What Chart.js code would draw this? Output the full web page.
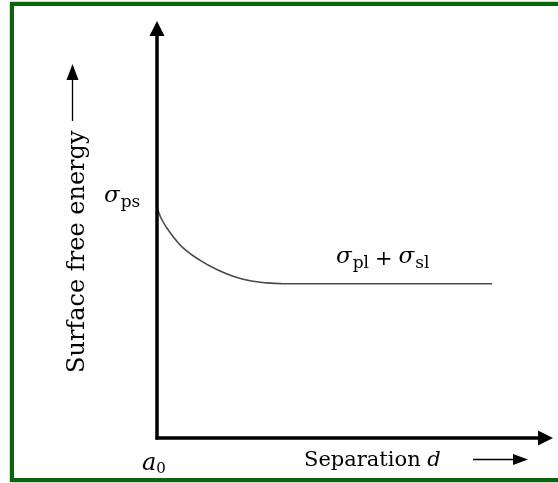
<!DOCTYPE html>
<html>
<head>
<meta charset="utf-8">
<script src="https://cdn.jsdelivr.net/npm/chart.js@4/dist/chart.umd.min.js"></script>
<style>
html,body{margin:0;padding:0;background:#fff;overflow:hidden;width:558px;height:483px;}
#wrap{position:relative;width:558px;height:483px;overflow:hidden;}
#frame{position:absolute;left:10px;top:2px;width:700px;height:472px;border-top:4.5px solid #0a640a;border-left:4.5px solid #0a640a;border-bottom:4.5px solid #0a640a;box-shadow:0 0 1.5px #2e8b2e;}
#c{display:block;position:absolute;left:0;top:0;}
</style>
</head>
<body>
<div id="wrap"><div id="frame"></div><canvas id="c" width="558" height="483"></canvas></div>
<script>
// Separation (arbitrary units, a0 = 0)
const separation = [0, 1.2, 3.2, 6.6, 10.9, 15.1, 19.2, 23.5, 27.7, 31.8, 45, 65, 84.6];
// Surface free energy (arbitrary units)
const energy = [55.3, 52.4, 49.4, 45.6, 42.6, 40.4, 38.8, 37.7, 37.2, 37.0, 37.0, 37.0, 37.0];
const axisLabels = { y: "Surface free energy", x: "Separation", xVar: "d", origin: "a", originSub: "0" };
const curveLabels = { start: "ps", end: ["pl", "sl"] };

const SERIF = '"DejaVu Serif", "Liberation Serif", serif';

function drawArrow(ctx, x1, y1, x2, y2, lw, headLen, headHalf) {
  const ang = Math.atan2(y2 - y1, x2 - x1);
  const bx = x2 - headLen * Math.cos(ang), by = y2 - headLen * Math.sin(ang);
  ctx.save();
  ctx.strokeStyle = '#000'; ctx.fillStyle = '#000'; ctx.lineWidth = lw;
  ctx.beginPath(); ctx.moveTo(x1, y1); ctx.lineTo(bx, by); ctx.stroke();
  ctx.beginPath();
  ctx.moveTo(x2, y2);
  ctx.lineTo(bx + headHalf * Math.sin(ang), by - headHalf * Math.cos(ang));
  ctx.lineTo(bx - headHalf * Math.sin(ang), by + headHalf * Math.cos(ang));
  ctx.closePath(); ctx.fill();
  ctx.restore();
}

function sigmaWithSub(ctx, x, yBase, sub, size, subSize) {
  ctx.font = 'italic ' + size + 'px ' + SERIF;
  ctx.fillText('σ', x, yBase);
  let w = ctx.measureText('σ').width;
  ctx.font = subSize + 'px ' + SERIF;
  ctx.fillText(sub, x + w + 1, yBase + 5);
  return w + 1 + ctx.measureText(sub).width;
}

const decor = {
  id: 'decor',
  afterDatasetsDraw(chart) {
    const ctx = chart.ctx;
    const xs = chart.scales.x, ys = chart.scales.y;
    const x0 = xs.getPixelForValue(0), y0 = ys.getPixelForValue(0);
    const a = chart.chartArea;
    // axes
    drawArrow(ctx, x0, y0 + 1.5, x0, a.top, 3.5, 15, 7.5);
    drawArrow(ctx, x0 - 1.5, y0, a.right, y0, 3.5, 15, 7.5);
    ctx.save();
    ctx.fillStyle = '#000';
    ctx.textBaseline = 'alphabetic';
    // sigma_ps
    sigmaWithSub(ctx, 104, 202, curveLabels.start, 23, 17);
    // sigma_pl + sigma_sl
    let x = 336;
    x += sigmaWithSub(ctx, x, 263, curveLabels.end[0], 23, 17);
    ctx.font = '21px ' + SERIF;
    x += 6;
    ctx.fillText('+', x, 265);
    x += ctx.measureText('+').width + 6;
    sigmaWithSub(ctx, x, 263, curveLabels.end[1], 23, 17);
    // a0
    ctx.font = 'italic 24px ' + SERIF;
    ctx.fillText(axisLabels.origin, 142, 470);
    let wa = ctx.measureText(axisLabels.origin).width;
    ctx.font = '15px ' + SERIF;
    ctx.fillText(axisLabels.originSub, 142 + wa, 473);
    // Separation d
    ctx.font = '21px ' + SERIF;
    ctx.fillText(axisLabels.x + ' ', 304, 466);
    let ws = ctx.measureText(axisLabels.x + ' ').width;
    ctx.font = 'italic 21px ' + SERIF;
    ctx.fillText(axisLabels.xVar, 304 + ws, 466);
    drawArrow(ctx, 473, 459.5, 528, 459.5, 1.3, 15, 5.5);
    // Surface free energy (rotated)
    ctx.save();
    ctx.translate(83.5, 373);
    ctx.rotate(-Math.PI / 2);
    ctx.font = '24px ' + SERIF;
    ctx.fillText(axisLabels.y, 0, 0);
    ctx.restore();
    drawArrow(ctx, 72.5, 121, 72.5, 64, 1.3, 16, 6);
    ctx.restore();
  }
};

new Chart(document.getElementById('c'), {
  type: 'line',
  data: {
    datasets: [{
      data: separation.map((s, i) => ({ x: s, y: energy[i] })),
      borderColor: '#4a4a4a',
      borderWidth: 1.6,
      pointRadius: 0,
      tension: 0.4,
      fill: false
    }]
  },
  options: {
    responsive: false,
    animation: false,
    events: [],
    layout: { padding: { left: 157, right: 5, top: 21, bottom: 45 } },
    plugins: { legend: { display: false }, tooltip: { enabled: false } },
    scales: {
      x: { type: 'linear', min: 0, max: 100, display: false },
      y: { type: 'linear', min: 0, max: 100, display: false }
    }
  },
  plugins: [decor]
});
</script>
</body>
</html>
